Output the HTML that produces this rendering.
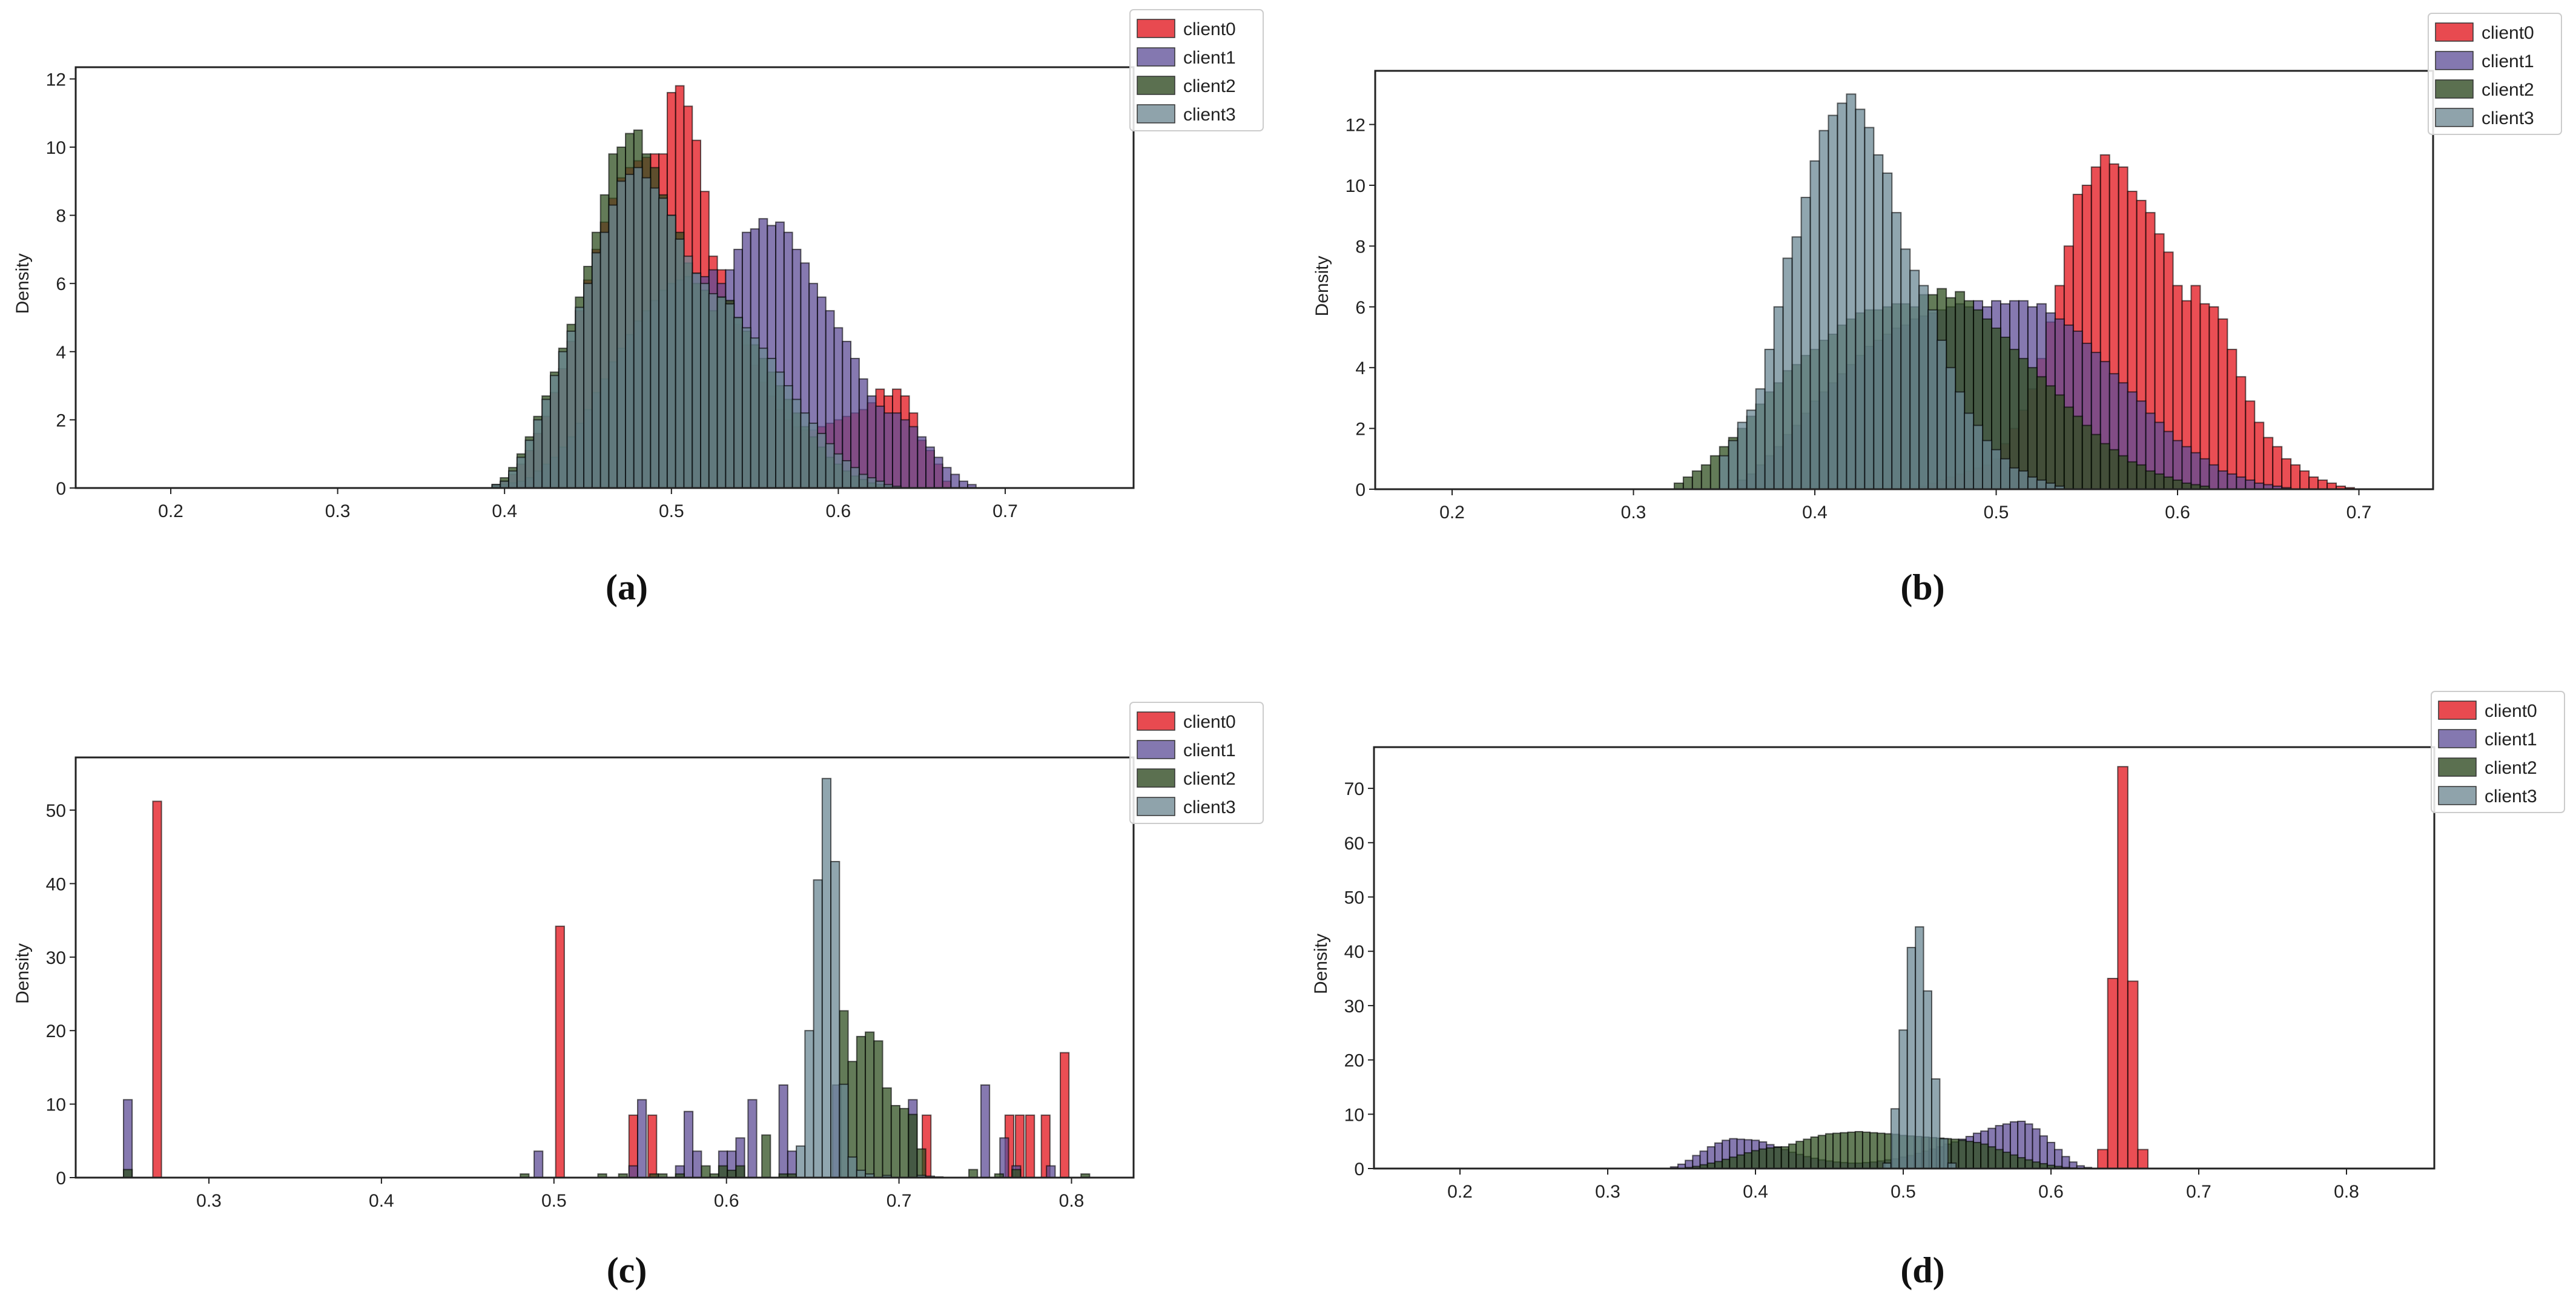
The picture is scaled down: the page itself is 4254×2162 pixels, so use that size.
<!DOCTYPE html>
<html><head><meta charset="utf-8"><style>
html,body{margin:0;padding:0;background:#fff;}
svg{display:block;font-family:"Liberation Sans",sans-serif;}
.tick{font-size:30px;fill:#222;}
.cap{font-family:"Liberation Serif",serif;font-size:60px;font-weight:bold;fill:#111;}
</style></head><body>
<svg id="fig" width="4254" height="2162" viewBox="0 0 4254 2162" xmlns="http://www.w3.org/2000/svg"></svg>
<script>
// ---------- DATA ----------
const clientNames = ["client0","client1","client2","client3"];
// Panel (a): bin start 0.395, width 0.005
const aStart = 0.395;
const aWidth = 0.005;
const aClient0 = [0.1,0.2,0.4,0.7,1.1,1.6,2.1,2.8,3.5,4.3,5.2,6.1,7.0,7.8,8.5,9.1,9.4,9.6,9.7,9.8,9.8,11.6,11.8,11.2,10.2,8.7,6.8,6.4,5.5,4.8,4.2,3.6,3.1,2.7,2.3,2.0,1.8,1.7,1.7,1.8,1.9,2.0,2.1,2.2,2.3,2.5,2.9,2.7,2.9,2.7,2.2,1.4,1.1,0.7,0.2];
const aClient1 = [0.05,0.1,0.15,0.2,0.3,0.5,0.7,0.9,1.2,1.5,1.9,2.3,2.8,3.2,3.7,4.1,4.5,4.9,5.2,5.5,5.8,6.0,6.1,6.2,6.3,6.2,6.4,6.0,6.4,7.0,7.5,7.6,7.9,7.7,7.8,7.5,7.0,6.6,6.0,5.6,5.2,4.7,4.3,3.8,3.2,2.7,2.4,2.2,2.2,2.0,1.8,1.5,1.2,0.9,0.6,0.4,0.2,0.1];
const aClient2 = [0.1,0.3,0.6,1.0,1.5,2.1,2.7,3.4,4.1,4.8,5.6,6.5,7.5,8.6,9.8,10.0,10.4,10.5,9.8,9.4,8.6,8.0,7.5,6.6,6.0,5.8,5.2,5.6,5.5,5.0,4.6,4.2,3.8,3.4,3.0,2.6,2.2,1.8,1.5,1.2,0.9,0.7,0.5,0.35,0.25,0.15,0.1,0.05];
const aClient3 = [0.1,0.2,0.5,0.9,1.4,2.0,2.6,3.3,4.0,4.6,5.3,6.0,6.9,7.5,8.3,9.0,9.2,9.4,9.1,8.8,8.5,8.0,7.3,6.8,6.3,6.0,5.7,5.6,5.4,5.0,4.7,4.4,4.1,3.8,3.4,3.0,2.6,2.2,1.9,1.6,1.3,1.0,0.8,0.6,0.4,0.3,0.2,0.1,0.05];
// Panel (b)
const bWidth = 0.005;
const bStart0 = 0.46, bStart1 = 0.36, bStart2 = 0.325, bStart3 = 0.35;
const bClient0 = [0.1,0.2,0.3,0.4,0.5,0.6,0.7,0.8,1.0,1.5,2.0,2.6,3.3,4.3,5.5,6.7,8.0,9.7,10.0,10.6,11.0,10.7,10.6,9.8,9.5,9.1,8.4,7.8,6.7,6.2,6.7,6.1,6.0,5.6,4.6,3.7,2.9,2.2,1.7,1.4,1.0,0.8,0.6,0.4,0.3,0.2,0.1,0.05];
const bClient1 = [0.3,0.5,0.8,1.1,1.4,1.8,2.1,2.5,2.9,3.2,3.5,3.8,4.1,4.4,4.7,4.9,5.1,5.3,5.4,5.6,5.7,5.8,5.9,6.0,6.1,6.0,6.2,6.0,6.2,6.1,6.2,6.2,6.0,6.1,5.8,5.6,5.4,5.2,4.8,4.5,4.2,3.8,3.5,3.2,2.9,2.5,2.2,1.9,1.6,1.4,1.2,1.0,0.8,0.6,0.5,0.4,0.3,0.2,0.15,0.1,0.05];
const bClient2 = [0.2,0.4,0.6,0.8,1.1,1.4,1.7,2.0,2.4,2.8,3.2,3.5,3.9,4.1,4.4,4.6,4.9,5.1,5.4,5.6,5.8,5.9,5.9,6.0,6.1,6.1,6.0,6.4,6.4,6.6,6.3,6.5,6.2,5.9,5.6,5.3,5.0,4.6,4.3,4.0,3.7,3.4,3.1,2.7,2.4,2.1,1.8,1.5,1.3,1.1,0.9,0.8,0.6,0.5,0.4,0.3,0.2,0.15,0.1];
const bClient3 = [1.1,1.6,2.2,2.6,3.3,4.6,6.0,7.6,8.3,9.6,10.8,11.8,12.3,12.7,13.0,12.5,11.9,11.0,10.4,9.1,7.9,7.2,6.7,5.9,4.9,4.0,3.2,2.5,2.1,1.6,1.3,1.0,0.7,0.6,0.4,0.3,0.2,0.1];
// Panel (c): explicit bin centers, width 0.005
const cWidth = 0.005;
const cX0 = [0.270,0.5035,0.546,0.557,0.716,0.764,0.770,0.776,0.785,0.796];
const cY0 = [51.2,34.2,8.5,8.5,8.5,8.5,8.5,8.5,8.5,17.0];
const cX1 = [0.253,0.491,0.546,0.551,0.573,0.578,0.583,0.598,0.603,0.608,0.615,0.633,0.638,0.664,0.708,0.750,0.761,0.768,0.788];
const cY1 = [10.6,3.6,1.6,10.6,1.6,9.0,3.6,3.6,3.6,5.4,10.6,12.6,3.6,12.6,10.6,12.6,5.4,1.6,1.6];
const cX2 = [0.253,0.483,0.528,0.540,0.558,0.563,0.573,0.588,0.593,0.598,0.603,0.608,0.623,0.633,0.638,0.668,0.673,0.678,0.683,0.688,0.693,0.698,0.703,0.708,0.713,0.743,0.758,0.768,0.808];
const cY2 = [1.1,0.5,0.5,0.5,0.5,0.5,0.5,1.6,0.5,1.6,1.0,1.6,5.8,0.5,0.5,22.7,15.8,19.2,19.8,18.6,12.2,9.8,9.4,8.6,3.9,1.1,0.5,1.1,0.5];
const cX3 = [0.643,0.648,0.653,0.658,0.663,0.668,0.673,0.678,0.683,0.693,0.713,0.718,0.723];
const cY3 = [4.3,20.0,40.5,54.3,43.0,12.7,2.8,1.0,0.5,0.3,0.3,0.2,0.1];
// Panel (d)
const dWidth0 = 0.0068, dStart0 = 0.635;
const dClient0 = [3.5,35.0,74.0,34.5,3.5];
const dWidth3 = 0.0055, dStart3 = 0.489;
const dClient3 = [1.0,11.0,25.5,40.7,44.5,32.7,16.5,5.5,1.0];
const dWidth = 0.005, dStart1 = 0.345, dStart2 = 0.355;
const dClient1 = [0.3,0.8,1.5,2.4,3.2,4.0,4.7,5.2,5.5,5.4,5.3,5.2,4.9,4.4,4.0,3.5,3.0,2.6,2.2,1.9,1.6,1.4,1.2,1.1,1.0,1.0,1.1,1.2,1.4,1.6,1.8,2.1,2.4,2.8,3.2,3.6,4.0,4.5,4.9,5.4,5.9,6.5,6.9,7.4,7.9,8.2,8.6,8.7,8.2,7.3,6.0,4.8,3.5,2.2,1.2,0.5,0.2];
const dClient2 = [0.2,0.4,0.7,1.0,1.3,1.7,2.1,2.5,2.9,3.3,3.6,3.8,3.9,4.0,4.5,5.0,5.4,5.8,6.1,6.4,6.5,6.6,6.7,6.8,6.7,6.6,6.5,6.4,6.3,6.1,6.0,5.9,5.8,5.7,5.6,5.5,5.4,5.2,5.0,4.8,4.5,4.0,3.5,3.0,2.5,2.0,1.6,1.2,0.9,0.6,0.4,0.2,0.1];
// Tick labels
const aXTicks = [0.2,0.3,0.4,0.5,0.6,0.7], aYTicks = [0,2,4,6,8,10,12];
const bXTicks = [0.2,0.3,0.4,0.5,0.6,0.7], bYTicks = [0,2,4,6,8,10,12];
const cXTicks = [0.3,0.4,0.5,0.6,0.7,0.8], cYTicks = [0,10,20,30,40,50];
const dXTicks = [0.2,0.3,0.4,0.5,0.6,0.7,0.8], dYTicks = [0,10,20,30,40,50,60,70];

// ---------- DRAW ----------
const NS = "http://www.w3.org/2000/svg";
const fig = document.getElementById('fig');
const fills = ["rgba(228,28,36,0.78)","rgba(94,76,150,0.75)","rgba(47,79,32,0.75)","rgba(107,136,148,0.75)"];
const legendFills = ["#e84a50","#8478b0","#5b7050","#8fa3ab"];
function mk(tag, attrs, parent){const e=document.createElementNS(NS,tag);for(const k in attrs)e.setAttribute(k,attrs[k]);(parent||fig).appendChild(e);return e;}
function seq(start, vals){return vals.map((v,i)=>start+i*0.005);}

function panel(id, g, series, xticks, yticks, caption){
  const grp = mk('g',{});
  
  
  const sx = v => g.x0px + (v - g.x0v) * g.pxPerX;
  const sy = v => g.y0px - v * g.pxPerY;
  series.forEach((s, si) => {
    const sg = mk('g',{}, grp);
    
    
    s.x.forEach((xv, i) => {
      const h = s.y[i];
      const x1 = sx(xv - s.w/2), x2 = sx(xv + s.w/2);
      const r = mk('rect',{x:x1,y:sy(h),width:Math.max(1,x2-x1),height:Math.max(0,g.y0px-sy(h)),fill:fills[si],stroke:"rgba(0,0,0,0.6)","stroke-width":2}, sg);
      
      
    });
  });
  const frame = mk('rect',{x:g.L,y:g.T,width:g.R-g.L,height:g.B-g.T,fill:"none",stroke:"#222","stroke-width":3}, grp);
  
  
  xticks.forEach(t => {
    const x = sx(t);
    mk('line',{x1:x,x2:x,y1:g.B,y2:g.B+10,stroke:"#222","stroke-width":2}, grp);
    const tx = mk('text',{x:x,y:g.B+48,"text-anchor":"middle",class:"tick"}, grp);
    tx.textContent = t.toFixed(1);
    
    
  });
  yticks.forEach(t => {
    const y = sy(t);
    mk('line',{x1:g.L-10,x2:g.L,y1:y,y2:y,stroke:"#222","stroke-width":2}, grp);
    const tx = mk('text',{x:g.L-16,y:y+11,"text-anchor":"end",class:"tick"}, grp);
    tx.textContent = String(t);
    
    
  });
  const yl = mk('text',{x:0,y:0,"text-anchor":"middle",class:"tick",transform:`translate(${g.L-78},${(g.T+g.B)/2+10}) rotate(-90)`,"font-size":"28"}, grp);
  yl.textContent = "Density";
  
  
  const lg = mk('g',{}, grp);
  
  
  mk('rect',{x:g.lx,y:g.ly,width:220,height:200,rx:6,fill:"rgba(255,255,255,0.85)",stroke:"#ccc","stroke-width":2}, lg);
  clientNames.forEach((n, i) => {
    const yy = g.ly + 28 + i*47;
    mk('rect',{x:g.lx+12,y:yy-12,width:62,height:30,fill:legendFills[i],stroke:"#333","stroke-width":1.5}, lg);
    const t = mk('text',{x:g.lx+88,y:yy+14,class:"tick","font-size":"29"}, lg);
    t.textContent = n;
    
    
  });
  const cap = mk('text',{x:g.cx,y:g.cy,"text-anchor":"middle",class:"cap"}, grp);
  cap.textContent = caption;
  
  
}

panel('a', {L:125,R:1872,T:111,B:806,x0v:0.2,x0px:282,pxPerX:2756,y0px:806,pxPerY:56.3,lx:1866,ly:16,cx:1035,cy:990},
  [{x:seq(aStart,aClient0),y:aClient0,w:aWidth},{x:seq(aStart,aClient1),y:aClient1,w:aWidth},{x:seq(aStart,aClient2),y:aClient2,w:aWidth},{x:seq(aStart,aClient3),y:aClient3,w:aWidth}],
  aXTicks, aYTicks, "(a)");
panel('b', {L:2271,R:4018,T:117,B:808,x0v:0.2,x0px:2398,pxPerX:2995,y0px:808,pxPerY:50.2,lx:4010,ly:22,cx:3175,cy:990},
  [{x:seq(bStart0,bClient0),y:bClient0,w:bWidth},{x:seq(bStart1,bClient1),y:bClient1,w:bWidth},{x:seq(bStart2,bClient2),y:bClient2,w:bWidth},{x:seq(bStart3,bClient3),y:bClient3,w:bWidth}],
  bXTicks, bYTicks, "(b)");
panel('c', {L:125,R:1872,T:1251,B:1945,x0v:0.3,x0px:345,pxPerX:2849,y0px:1945,pxPerY:12.14,lx:1866,ly:1160,cx:1035,cy:2118},
  [{x:cX0,y:cY0,w:cWidth},{x:cX1,y:cY1,w:cWidth},{x:cX2,y:cY2,w:cWidth},{x:cX3,y:cY3,w:cWidth}],
  cXTicks, cYTicks, "(c)");
panel('d', {L:2269,R:4020,T:1234,B:1930,x0v:0.2,x0px:2411,pxPerX:2440,y0px:1930,pxPerY:8.97,lx:4015,ly:1142,cx:3175,cy:2118},
  [{x:dClient0.map((v,i)=>dStart0+i*dWidth0),y:dClient0,w:dWidth0},{x:seq(dStart1,dClient1),y:dClient1,w:dWidth},{x:seq(dStart2,dClient2),y:dClient2,w:dWidth},{x:dClient3.map((v,i)=>dStart3+i*dWidth3),y:dClient3,w:dWidth3}],
  dXTicks, dYTicks, "(d)");
</script>
</body></html>
